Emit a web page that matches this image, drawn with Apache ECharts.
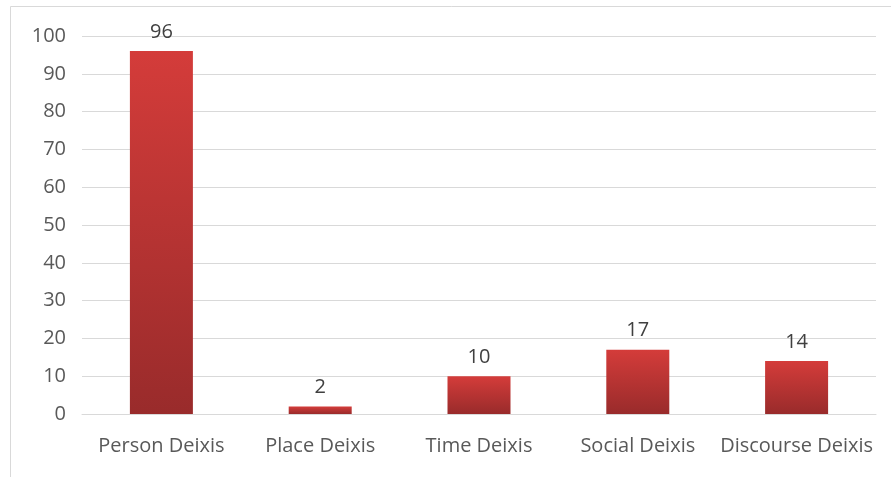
<!DOCTYPE html>
<html><head><meta charset="utf-8">
<script src="https://cdn.jsdelivr.net/npm/echarts@6/dist/echarts.min.js"></script>
<style>html,body{margin:0;padding:0;background:#fff}#c{width:891px;height:477px}</style>
</head><body><div id="c"></div>
<script>
const categories = ['Person Deixis','Place Deixis','Time Deixis','Social Deixis','Discourse Deixis'];
const values = [96, 2, 10, 17, 14];
const yTicks = {min:0, max:100, interval:10};

const chart = echarts.init(document.getElementById('c'), null, {renderer:'canvas'});
const font = '"Open Sans", "Liberation Sans", sans-serif';
chart.setOption({
  animation:false,
  graphic:[{type:'rect', shape:{x:10.5,y:6.5,width:900,height:500}, style:{fill:'none', stroke:'#d9d9d9', lineWidth:1}, silent:true}],
  grid:{left:82, right:15, top:36, bottom:63, containLabel:false},
  xAxis:{type:'category', data:categories,
    axisLine:{lineStyle:{color:'#d9d9d9', width:1}}, axisTick:{show:false},
    axisLabel:{color:'#595959', fontSize:20, fontFamily:font, margin:22, interval:0}},
  yAxis:{type:'value', min:yTicks.min, max:yTicks.max, interval:yTicks.interval,
    axisLine:{show:false}, axisTick:{show:false},
    splitLine:{lineStyle:{color:'#d9d9d9', width:1}},
    axisLabel:{color:'#595959', fontSize:20, fontFamily:font, margin:16}},
  series:[{type:'bar', data:values, barWidth:63,
    itemStyle:{color:new echarts.graphic.LinearGradient(0,0,0,1,[{offset:0,color:'#d43c3a'},{offset:1,color:'#992b2b'}])},
    label:{show:true, position:'top', distance:9, color:'#404040', fontSize:20, fontFamily:font}}]
});
</script></body></html>
